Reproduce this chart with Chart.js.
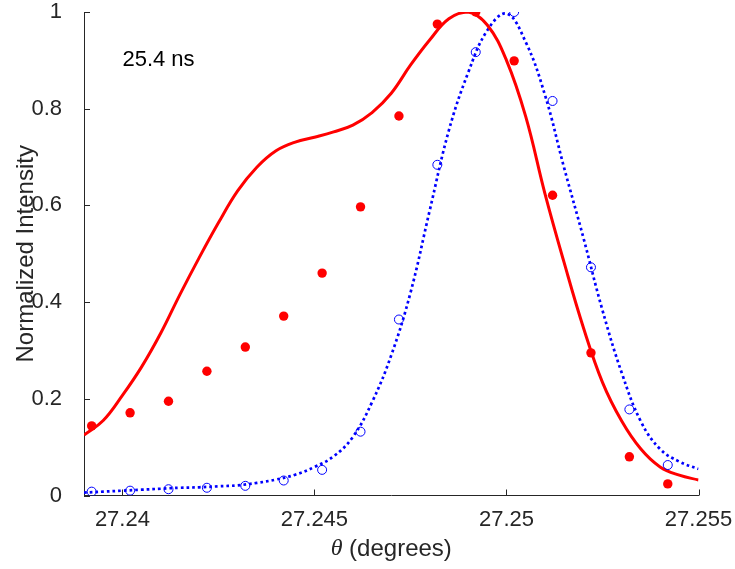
<!DOCTYPE html>
<html>
<head>
<meta charset="UTF-8">
<title>Normalized Intensity vs theta</title>
<script src="https://cdn.jsdelivr.net/npm/chart.js"></script>
<style>
  html, body { margin: 0; padding: 0; background: #fff; }
  #wrap { width: 735px; height: 569px; position: relative; }
</style>
</head>
<body>
<div id="wrap"><canvas id="chart"></canvas></div>
<script>
// fitted curves, every 0.0005 degrees
const fitX = [27.2390, 27.2395, 27.2400, 27.2405, 27.2410, 27.2415, 27.2420, 27.2425, 27.2430, 27.2435,
              27.2440, 27.2445, 27.2450, 27.2455, 27.2460, 27.2465, 27.2470, 27.2475, 27.2480, 27.2485,
              27.2490, 27.2495, 27.2500, 27.2505, 27.2510, 27.2515, 27.2520, 27.2525, 27.2530, 27.2535,
              27.2540, 27.2545, 27.2550];
const redFit = [0.125, 0.155, 0.207, 0.266, 0.336, 0.416, 0.492, 0.564, 0.630, 0.679,
                0.713, 0.731, 0.741, 0.752, 0.766, 0.792, 0.832, 0.890, 0.942, 0.986,
                1.000, 0.973, 0.900, 0.784, 0.625, 0.482, 0.348, 0.234, 0.154, 0.096,
                0.059, 0.042, 0.032];
const blueFit = [0.006, 0.008, 0.010, 0.012, 0.014, 0.016, 0.017, 0.019, 0.021, 0.026,
                 0.033, 0.043, 0.059, 0.081, 0.121, 0.193, 0.290, 0.419, 0.589, 0.755,
                 0.874, 0.962, 0.997, 0.938, 0.829, 0.678, 0.534, 0.383, 0.254, 0.153,
                 0.096, 0.070, 0.055];

// measured points
const ptX = [27.2392, 27.2402, 27.2412, 27.2422, 27.2432, 27.2442, 27.2452, 27.2462,
             27.2472, 27.2482, 27.2492, 27.2502, 27.2512, 27.2522, 27.2532, 27.2542];
const redPts = [0.144, 0.171, 0.195, 0.257, 0.307, 0.371, 0.460, 0.597,
                0.785, 0.975, 1.000, 0.899, 0.621, 0.295, 0.080, 0.024];
const bluePts = [0.008, 0.010, 0.013, 0.016, 0.020, 0.031, 0.053, 0.132,
                 0.364, 0.684, 0.917, 1.000, 0.816, 0.472, 0.178, 0.063];

const xTicks = [27.24, 27.245, 27.25, 27.255];
const xTickLabels = ['27.24', '27.245', '27.25', '27.255'];
const yTicks = [0, 0.2, 0.4, 0.6, 0.8, 1];
const yTickLabels = ['0', '0.2', '0.4', '0.6', '0.8', '1'];

const xTitle = ['\u03b8', ' (degrees)'];
const yTitle = 'Normalized Intensity';
const note = { x: 27.24, y: 0.9, text: '25.4 ns' };

const ink = '#262626';
const sans = '"Liberation Sans", Arial, sans-serif';
const pairs = (xs, ys) => xs.map((v, i) => ({ x: v, y: ys[i] }));

// matlab style: inward ticks, titles and the text note
const matlabAxes = {
  id: 'matlabAxes',
  afterDraw(chart) {
    const { ctx, chartArea: a, scales: { x, y } } = chart;
    ctx.save();
    ctx.strokeStyle = ink;
    ctx.lineWidth = 1;
    ctx.beginPath();
    x.ticks.forEach(t => {
      const px = Math.round(x.getPixelForValue(t.value)) + 0.5;
      ctx.moveTo(px, a.bottom);
      ctx.lineTo(px, a.bottom - 6);
    });
    y.ticks.forEach(t => {
      const py = Math.round(y.getPixelForValue(t.value)) + 0.5;
      ctx.moveTo(a.left, py);
      ctx.lineTo(a.left + 6, py);
    });
    ctx.stroke();

    ctx.fillStyle = ink;
    ctx.textBaseline = 'middle';

    // x title, theta in italic
    const f1 = 'italic 24px "Liberation Serif", serif';
    const f2 = '24px ' + sans;
    ctx.font = f1;
    const w1 = ctx.measureText(xTitle[0]).width;
    ctx.font = f2;
    const w2 = ctx.measureText(xTitle[1]).width;
    const tx = (a.left + a.right) / 2 - (w1 + w2) / 2;
    ctx.textAlign = 'left';
    ctx.font = f1;
    ctx.fillText(xTitle[0], tx, 549);
    ctx.font = f2;
    ctx.fillText(xTitle[1], tx + w1, 549);

    // y title
    ctx.save();
    ctx.translate(26, (a.top + a.bottom) / 2);
    ctx.rotate(-Math.PI / 2);
    ctx.textAlign = 'center';
    ctx.font = f2;
    ctx.fillText(yTitle, 0, 0);
    ctx.restore();

    // note
    ctx.font = '22px ' + sans;
    ctx.textAlign = 'left';
    ctx.fillStyle = '#000';
    ctx.fillText(note.text, x.getPixelForValue(note.x), y.getPixelForValue(note.y));
    ctx.restore();
  }
};

new Chart(document.getElementById('chart'), {
  type: 'scatter',
  data: {
    datasets: [
      {
        label: 'measured (filled)',
        data: pairs(ptX, redPts),
        pointRadius: 4.7,
        pointBackgroundColor: '#ff0000',
        pointBorderColor: '#ff0000',
        pointBorderWidth: 0
      },
      {
        label: 'measured (open)',
        data: pairs(ptX, bluePts),
        pointRadius: 4.5,
        pointBackgroundColor: 'rgba(0,0,0,0)',
        pointBorderColor: '#0000ff',
        pointBorderWidth: 1
      },
      {
        label: 'fit red',
        data: pairs(fitX, redFit),
        showLine: true,
        pointRadius: 0,
        borderColor: '#ff0000',
        borderWidth: 3,
        tension: 0.4
      },
      {
        label: 'fit blue',
        data: pairs(fitX, blueFit),
        showLine: true,
        pointRadius: 0,
        borderColor: '#0000ff',
        borderWidth: 2.7,
        borderDash: [2.7, 3],
        tension: 0.4
      }
    ]
  },
  options: {
    responsive: true,
    maintainAspectRatio: false,
    animation: false,
    layout: { padding: { left: 0, right: 36.5, top: 12, bottom: 0 } },
    plugins: { legend: { display: false }, tooltip: { enabled: false } },
    scales: {
      x: {
        type: 'linear',
        min: 27.239,
        max: 27.255,
        afterBuildTicks: s => { s.ticks = xTicks.map(v => ({ value: v })); },
        afterFit: s => { s.height = 73.5; s.paddingLeft = 0; s.paddingRight = 0; },
        grid: { display: false, drawTicks: false },
        border: { display: true, color: ink, width: 1 },
        ticks: {
          padding: 11,
          color: ink,
          font: { family: sans, size: 22 },
          maxRotation: 0,
          callback: (v, i) => xTickLabels[i]
        }
      },
      y: {
        min: 0,
        max: 1,
        afterBuildTicks: s => { s.ticks = yTicks.map(v => ({ value: v })); },
        afterFit: s => { s.width = 84; s.paddingTop = 0; s.paddingBottom = 0; },
        grid: { display: false, drawTicks: false },
        border: { display: true, color: ink, width: 1 },
        ticks: {
          padding: 22,
          color: ink,
          font: { family: sans, size: 22 },
          callback: (v, i) => yTickLabels[i]
        }
      }
    }
  },
  plugins: [matlabAxes]
});
</script>
</body>
</html>
